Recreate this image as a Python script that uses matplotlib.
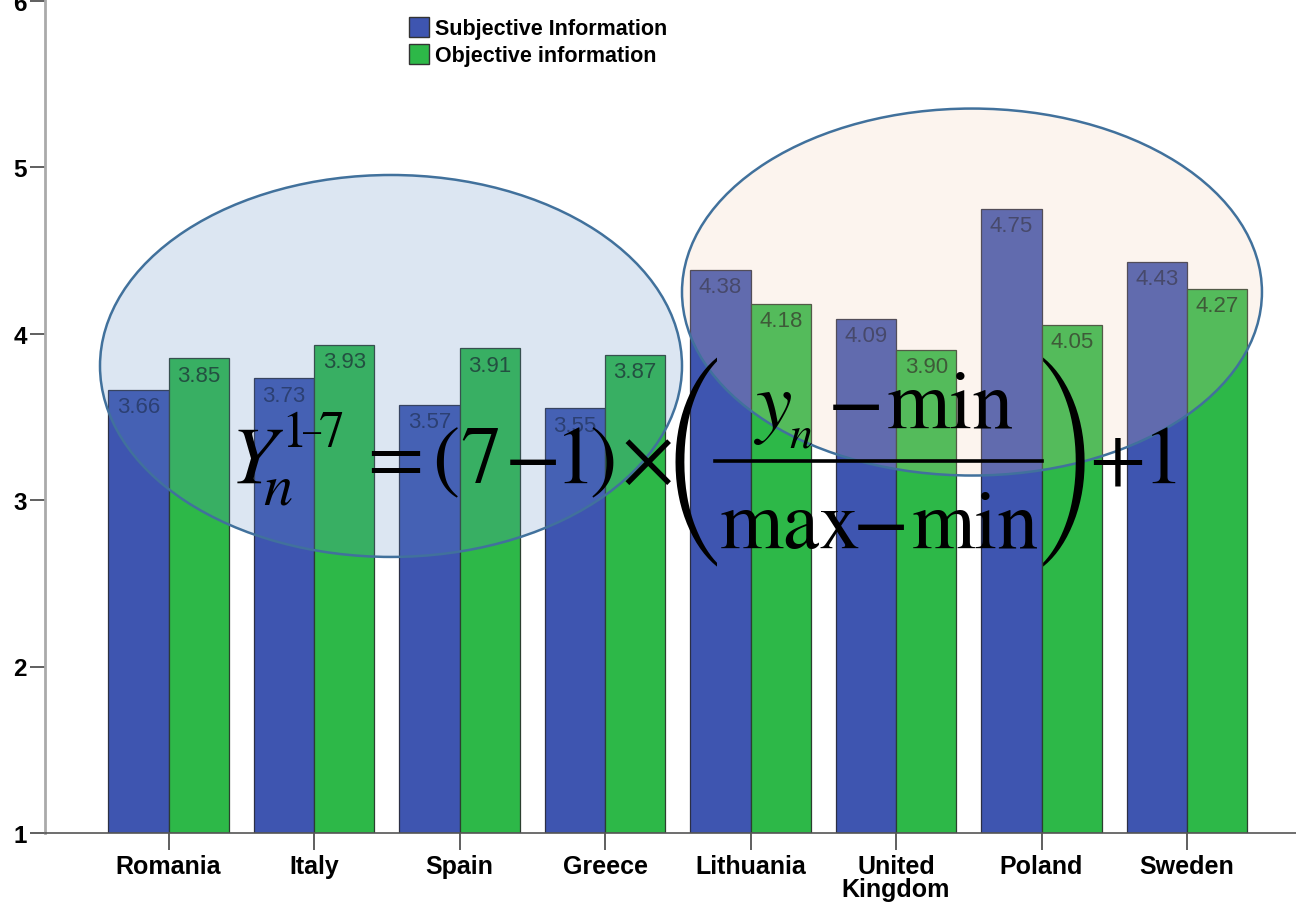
import matplotlib
matplotlib.use("Agg")
import matplotlib.pyplot as plt
from matplotlib.patches import Ellipse, Patch
from matplotlib.lines import Line2D
from matplotlib.textpath import TextPath
from matplotlib.font_manager import FontProperties
import numpy as np

countries = ["Romania", "Italy", "Spain", "Greece", "Lithuania", "United\nKingdom", "Poland", "Sweden"]
subjective = [3.66, 3.73, 3.57, 3.55, 4.38, 4.09, 4.75, 4.43]
objective = [3.85, 3.93, 3.91, 3.87, 4.18, 3.90, 4.05, 4.27]
series_names = ["Subjective Information", "Objective information"]
yticks = [1, 2, 3, 4, 5, 6]

BLUE = "#3E55B0"
GREEN = "#2DB848"
FONT = ["Liberation Sans", "DejaVu Sans"]
plt.rcParams["font.family"] = FONT

W, H = 1296, 903
K = 100 / 72.0
fig = plt.figure(figsize=(W / 100, H / 100), dpi=100)
ax = fig.add_axes([45 / W, 69 / H, 1 - 45 / W, 1 - 69 / H])

x = np.arange(len(countries))
bw = 0.415
ax.bar(x - bw / 2, np.array(subjective) - 1, bw, bottom=1, color=BLUE,
       edgecolor="#2b2f45", linewidth=0.9, zorder=2)
ax.bar(x + bw / 2, np.array(objective) - 1, bw, bottom=1, color=GREEN,
       edgecolor="#2b3f2f", linewidth=0.9, zorder=2)

for xi, v in zip(x - bw / 2, subjective):
    ax.annotate(f"{v:.2f}", (xi, v), xytext=(0, -4.5), textcoords="offset points",
                ha="center", va="top", fontsize=16, color="#1d2a5c", zorder=3)
for xi, v in zip(x + bw / 2, objective):
    ax.annotate(f"{v:.2f}", (xi, v), xytext=(0, -4.5), textcoords="offset points",
                ha="center", va="top", fontsize=16, color="#123f1c", zorder=3)

ax.set_xlim(-0.849, 7.749)
ax.set_ylim(1, 1 + 834 / 166.5)
ax.set_xticks(x)
ax.set_xticklabels(countries, fontsize=18, fontweight="bold", linespacing=0.95)
ax.set_yticks(yticks)
ax.set_yticklabels([str(t) for t in yticks], fontsize=17.5, fontweight="bold")
ax.tick_params(axis="x", length=12, width=1.2, color="#444444", pad=3)
ax.tick_params(axis="y", length=11, width=1.2, color="#444444", pad=2)
for s in ["top", "right"]:
    ax.spines[s].set_visible(False)
ax.spines["left"].set_color("#aaaaaa")
ax.spines["left"].set_linewidth(2)
ax.spines["bottom"].set_color("#555555")
ax.spines["bottom"].set_linewidth(1.2)

# highlight ellipses
for (cx, cy, ew, eh, fc, al) in [(1.529, 3.805, 4.0, 2.294, "#628FC5", 0.22),
                                 (5.522, 4.249, 3.986, 2.204, "#F1C8AA", 0.2)]:
    ax.add_patch(Ellipse((cx, cy), ew, eh, facecolor=fc, alpha=al, edgecolor="none", zorder=4))
    ax.add_patch(Ellipse((cx, cy), ew, eh, facecolor="none", edgecolor="#41719C",
                         linewidth=1.8, zorder=5))


# formula, placed piece by piece (pixel positions of ink centres / baselines)
def put(s, cx, base, size, italic=False, family="STIXGeneral"):
    fp = FontProperties(family=family, style="italic" if italic else "normal", size=size)
    ext = TextPath((0, 0), s, size=size, prop=fp).get_extents()
    x0 = cx - (ext.x0 + ext.x1) / 2 * K
    fig.text(x0 / W, 1 - base / H, s, fontproperties=fp, ha="left", va="baseline",
             color="black", zorder=10)


def paren(s, left, right, top, bottom):
    fp = FontProperties(family="STIXSizeFourSym")
    ext = TextPath((0, 0), s, size=100, prop=fp).get_extents()
    size = (bottom - top) / (ext.height / 100 * K)
    base = top + ext.y1 / 100 * size * K
    x0 = (left + right) / 2 - (ext.x0 + ext.x1) / 2 / 100 * size * K
    fp.set_size(size)
    fig.text(x0 / W, 1 - base / H, s, fontproperties=fp, ha="left", va="baseline",
             color="black", zorder=10)


F = 59
put("Y", 260, 483, F, italic=True)
put("1", 294, 447, 37)
put("\u2013", 312, 441, 26)
put("7", 331, 447, 37)
put("n", 277, 505, 42, italic=True)
put("=", 395, 483, F)
put("(", 447, 483, F)
put("7", 480, 483, F)
put("\u2212", 533, 483, F)
put("1", 576, 483, F)
put(")", 602, 483, F)
put("\u00d7", 648, 483, F)
paren("(", 680, 712, 357, 567)
put("y", 772, 428, F, italic=True)
put("n", 801, 448, 33, italic=True)
put("\u2212", 856, 428, F)
put("min", 951, 428, F)
fig.add_artist(Line2D([715 / W, 1042 / W], [1 - 462 / H, 1 - 462 / H],
                      transform=fig.transFigure, color="black", linewidth=2.6, zorder=10))
put("max", 790, 548, F)
put("\u2212", 881, 548, F)
put("min", 976, 548, F)
paren(")", 1048, 1080, 357, 567)
put("+", 1117, 483, F)
put("1", 1164, 483, F)

handles = [Patch(facecolor=BLUE, edgecolor="#333333"), Patch(facecolor=GREEN, edgecolor="#333333")]
fig.legend(handles, series_names, loc="upper left", bbox_to_anchor=(409 / W, 1 - 18 / H),
           frameon=False, prop={"family": FONT, "weight": "bold", "size": 15.5},
           handlelength=0.95, handleheight=1.05, handletextpad=0.25, labelspacing=0.2,
           borderpad=0, borderaxespad=0)

fig.savefig("out.png", dpi=100)
